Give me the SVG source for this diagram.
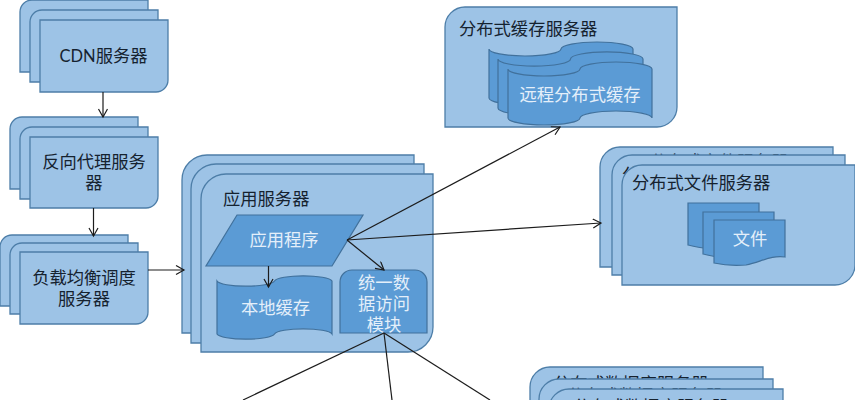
<svg xmlns="http://www.w3.org/2000/svg" width="855" height="400" viewBox="0 0 855 400">
<style>
.box{fill:#9dc3e6;stroke:#4d7ea8;stroke-width:1.3}
.in{fill:#5b9bd5;stroke:#41719c;stroke-width:1.2}
.d,.w{font-family:"Noto Sans","Noto Sans CJK SC",sans-serif;font-size:17.3px}
.d{fill:#15222f}
.w{fill:#e4effa}
.m{text-anchor:middle}
.l{font-family:Lato,"Noto Sans",sans-serif;font-size:16.5px}
.c{fill:none;stroke:#1c1c1c;stroke-width:1.2}
</style>
<defs>
<marker id="a" markerWidth="12" markerHeight="12" refX="9" refY="5" orient="auto" markerUnits="userSpaceOnUse"><path d="M1 0.5L9 5L1 9.5" fill="none" stroke="#1c1c1c" stroke-width="1.2"/></marker>
</defs>
<rect width="855" height="400" fill="#fff"/>
<g id="cdn">
<path class="box" d="M32 0H148V72H20V12A12 12 0 0 1 32 0Z"/>
<path class="box" d="M42 10H158V82H30V22A12 12 0 0 1 42 10Z"/>
<path class="box" d="M40 20H168V80A12 12 0 0 1 156 92H40Z"/>
<text class="d m" x="103.500" y="62"><tspan class="l">CDN</tspan>服务器</text>
</g>
<g id="reverse-proxy">
<path class="box" d="M22 117H138V189H10V129A12 12 0 0 1 22 117Z"/>
<path class="box" d="M32 127H148V199H20V139A12 12 0 0 1 32 127Z"/>
<path class="box" d="M30 137H158V196A12 12 0 0 1 146 208H30Z"/>
<text class="d m" x="94" y="168">反向代理服务</text>
<text class="d m" x="94" y="189">器</text>
</g>
<g id="load-balancer">
<path class="box" d="M12 235H128V306H0V247A12 12 0 0 1 12 235Z"/>
<path class="box" d="M22 243H138V314H10V255A12 12 0 0 1 22 243Z"/>
<path class="box" d="M20 252H148V312A12 12 0 0 1 136 324H20Z"/>
<text class="d m" x="84" y="284">负载均衡调度</text>
<text class="d m" x="84" y="305">服务器</text>
</g>
<g id="app-server">
<path class="box" d="M207 155H414V333H182V180A25 25 0 0 1 207 155Z"/>
<path class="box" d="M216 164H424V343H191V189A25 25 0 0 1 216 164Z"/>
<path class="box" d="M226 174H433V327A25 25 0 0 1 408 352H201V199A25 25 0 0 1 226 174Z"/>
<text class="d" x="223" y="205">应用服务器</text>
<path class="in" d="M237 215H363L332 266H206Z"/>
<text class="w m" x="284" y="246">应用程序</text>
<path class="in" d="M217 281A29 6 0 0 0 274.500 281A29 6 0 0 1 332 281V334A29 6 0 0 0 274.500 334A29 6 0 0 1 217 334Z"/>
<text class="w m" x="275.500" y="314">本地缓存</text>
<path class="in" d="M352 270H415A12 12 0 0 1 427 282V333H340V282A12 12 0 0 1 352 270Z"/>
<text class="w m" x="384" y="289">统一数</text>
<text class="w m" x="384" y="310">据访问</text>
<text class="w m" x="384" y="331">模块</text>
</g>
<g id="cache-server">
<path class="box" d="M465 7H677V107A20 20 0 0 1 657 127H445V27A20 20 0 0 1 465 7Z"/>
<text class="d" x="459" y="35">分布式缓存服务器</text>
<path class="in" d="M489 49A36 7 0 0 0 561 49A36 7 0 0 1 633 49V98A36 7 0 0 0 561 98A36 7 0 0 1 489 98Z"/>
<path class="in" d="M498 59A36 7 0 0 0 570.500 59A36 7 0 0 1 643 59V108A36 7 0 0 0 570.500 108A36 7 0 0 1 498 108Z"/>
<path class="in" d="M508 69A36 7 0 0 0 580 69A36 7 0 0 1 652 69V118A36 7 0 0 0 580 118A36 7 0 0 1 508 118Z"/>
<text class="w m" x="580" y="101">远程分布式缓存</text>
</g>
<g id="file-server">
<path class="box" d="M620 147H833V267H600V167A20 20 0 0 1 620 147Z"/>
<text class="d" x="650" y="167.700">分布式文件服务器</text>
<path class="box" d="M632 155H845V275H612V175A20 20 0 0 1 632 155Z"/>
<text class="d" x="622" y="181">分布式文件服务器</text>
<path class="box" d="M642 165H855V265A20 20 0 0 1 835 285H622V185A20 20 0 0 1 642 165Z"/>
<text class="d" x="632" y="189">分布式文件服务器</text>
<path class="in" d="M688 203H759V242C745 240 735 247 720 249C708 250 697 247 688 245Z"/>
<path class="in" d="M703 212H774V251C760 249 750 256 735 258C723 259 712 256 703 254Z"/>
<path class="in" d="M714 220H785V257C771 255 761 262 746 265C734 266 723 265 714 263Z"/>
<text class="w m" x="750" y="245">文件</text>
</g>
<g id="db-server">
<path class="box" d="M550 367H763V420H530V387A20 20 0 0 1 550 367Z"/>
<text class="d" x="553" y="390">分布式数据库服务器</text>
<path class="box" d="M559 379H773V430H539V399A20 20 0 0 1 559 379Z"/>
<text class="d" x="567" y="402">分布式数据库服务器</text>
<path class="box" d="M569 389H783V440H549V409A20 20 0 0 1 569 389Z"/>
<text class="d" x="573" y="413">分布式数据库服务器</text>
</g>
<g id="connectors">
<path class="c" marker-end="url(#a)" d="M103 92V117"/>
<path class="c" marker-end="url(#a)" d="M93.500 208V236"/>
<path class="c" marker-end="url(#a)" d="M148 270H184"/>
<path class="c" marker-end="url(#a)" d="M268.500 266V287"/>
<path class="c" marker-end="url(#a)" d="M347 240L384 270"/>
<path class="c" marker-end="url(#a)" d="M347 240L560 127"/>
<path class="c" marker-end="url(#a)" d="M347 240L601 223"/>
<path class="c" d="M384 333L243 400"/>
<path class="c" d="M384 333L392 400"/>
<path class="c" d="M384 333L490 400"/>
</g>
</svg>
